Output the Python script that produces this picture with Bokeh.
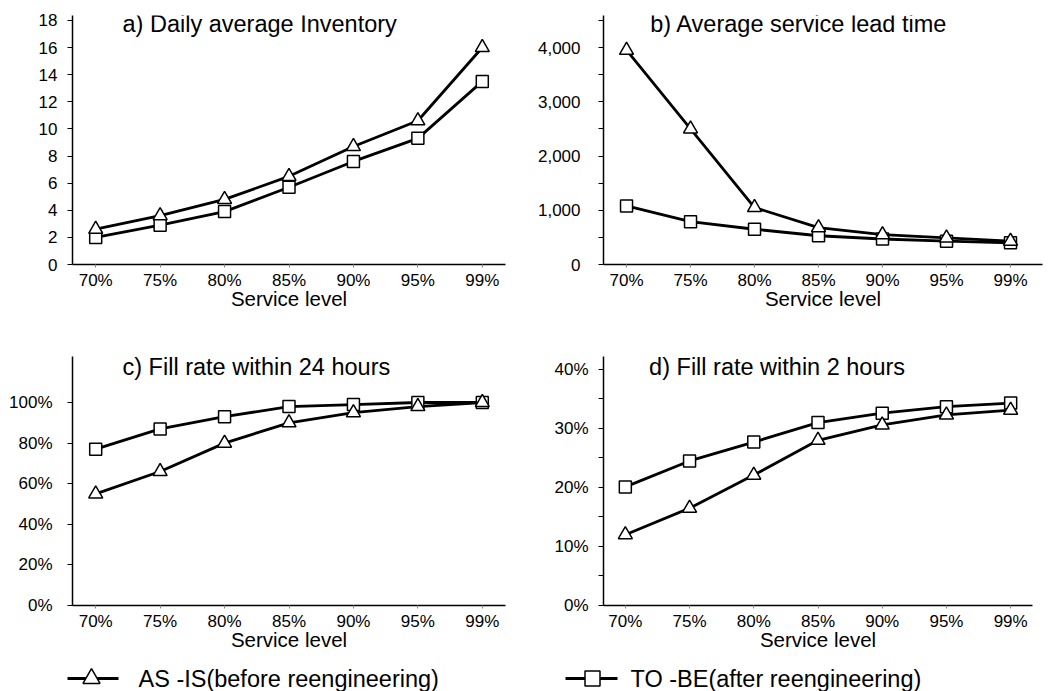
from bokeh.plotting import figure
from bokeh.layouts import column, row
from bokeh.models import Range1d, FixedTicker, NumeralTickFormatter, Label
from bokeh.core.properties import value
from bokeh.embed import file_html
from bokeh.resources import INLINE

# ---------------- data ----------------
service_levels = ["70%", "75%", "80%", "85%", "90%", "95%", "99%"]

inventory_asis = [2.6, 3.6, 4.8, 6.5, 8.7, 10.6, 16.0]
inventory_tobe = [2.0, 2.9, 3.9, 5.7, 7.6, 9.3, 13.5]

leadtime_asis = [3950, 2500, 1050, 680, 550, 490, 430]
leadtime_tobe = [1080, 790, 650, 530, 470, 430, 400]

fill24_asis = [0.55, 0.66, 0.80, 0.90, 0.95, 0.98, 1.00]
fill24_tobe = [0.77, 0.87, 0.93, 0.98, 0.99, 1.00, 1.00]

fill2_asis = [0.120, 0.165, 0.221, 0.280, 0.306, 0.323, 0.331]
fill2_tobe = [0.201, 0.245, 0.277, 0.310, 0.326, 0.337, 0.343]

panel_titles = ["a) Daily average Inventory", "b) Average service lead time",
                "c) Fill rate within 24 hours", "d) Fill rate within 2 hours"]
x_title = "Service level"
legend_labels = ["AS -IS(before reengineering)", "TO -BE(after reengineering)"]

FONT = "Liberation Sans"
x_idx = list(range(len(service_levels)))


def make_panel(width, height, borders, xr, yr, yticks, yminor, yfmt, title,
               title_xy, asis, tobe, y_standoff):
    bl, br, bt, bb = borders
    p = figure(width=width, height=height, output_backend="svg", toolbar_location=None,
               x_range=Range1d(*xr), y_range=Range1d(*yr),
               min_border_left=bl, min_border_right=br, min_border_top=bt, min_border_bottom=bb)
    p.outline_line_color = None
    p.xgrid.visible = False
    p.ygrid.visible = False

    xa = p.xaxis[0]
    xa.ticker = FixedTicker(ticks=x_idx)
    xa.major_label_overrides = {i: s for i, s in enumerate(service_levels)}
    xa.axis_label = x_title
    xa.axis_label_text_font = FONT
    xa.axis_label_text_font_style = "normal"
    xa.axis_label_text_font_size = "20.5px"
    xa.axis_label_text_color = "black"
    xa.axis_label_standoff = -6
    xa.major_label_text_font = FONT
    xa.major_label_text_font_size = "17px"
    xa.major_label_text_color = "black"
    xa.major_label_standoff = 3
    xa.major_tick_out = 3
    xa.major_tick_in = 0
    xa.minor_tick_out = 0
    xa.minor_tick_in = 0
    xa.axis_line_width = 1.5
    xa.axis_line_color = "black"
    xa.major_tick_line_color = "#888888"

    ya = p.yaxis[0]
    ya.ticker = FixedTicker(ticks=yticks, minor_ticks=yminor)
    ya.formatter = NumeralTickFormatter(format=yfmt)
    ya.major_label_text_font = FONT
    ya.major_label_text_font_size = "17px"
    ya.major_label_text_color = "black"
    ya.major_label_standoff = y_standoff
    ya.major_tick_out = 5
    ya.major_tick_in = 0
    ya.minor_tick_out = 5
    ya.minor_tick_in = 0
    ya.axis_line_width = 1.5
    ya.axis_line_color = "black"
    ya.major_tick_line_color = "black"
    ya.minor_tick_line_color = "black"

    p.line(x_idx, asis, line_color="black", line_width=2.8)
    p.line(x_idx, tobe, line_color="black", line_width=2.8)
    p.scatter(x_idx, tobe, marker="square", size=12, fill_color="white",
              line_color="black", line_width=1.5)
    p.scatter(x_idx, asis, marker="triangle", size=14, fill_color="white",
              line_color="black", line_width=1.5)

    p.add_layout(Label(x=title_xy[0], y=title_xy[1], text=title, text_font=FONT,
                       text_font_size="23.5px", text_color="black",
                       text_baseline="middle", text_align="left"))
    return p


pa = make_panel(520, 318, (72, 15, 13, 54), (-0.36, 6.36), (0, 18.36),
                list(range(0, 19, 2)), [], "0", panel_titles[0], (0.416, 17.70),
                inventory_asis, inventory_tobe, 10)
pb = make_panel(533, 318, (83, 11, 15, 54), (-0.36, 6.5), (0, 4590),
                [0, 1000, 2000, 3000, 4000], [500, 1500, 2500, 3500, 4500], "0,0",
                panel_titles[1], (0.37, 4442), leadtime_asis, leadtime_tobe, 18)
pc = make_panel(520, 337, (72, 15, 38, 50), (-0.36, 6.36), (0, 1.2266),
                [0, 0.2, 0.4, 0.6, 0.8, 1.0], [], "0%", panel_titles[2],
                (0.416, 1.177), fill24_asis, fill24_tobe, 15)
pd_ = make_panel(533, 337, (83, 21, 38, 50), (-0.34, 6.34), (0, 0.422),
                 [0, 0.1, 0.2, 0.3, 0.4], [0.05, 0.15, 0.25, 0.35],
                 "0%", panel_titles[3], (0.37, 0.405),
                 fill2_asis, fill2_tobe, 10)

# ---------------- legend strip (pixel-like coordinates) ----------------
LEG_W, LEG_H = 1053, 36
pl = figure(width=LEG_W, height=LEG_H, output_backend="svg", toolbar_location=None,
            x_range=Range1d(0, LEG_W), y_range=Range1d(LEG_H, 0),
            x_axis_location=None, y_axis_location=None,
            min_border=0, min_border_left=0, min_border_right=0,
            min_border_top=0, min_border_bottom=0)
pl.outline_line_color = None
pl.xgrid.visible = False
pl.ygrid.visible = False

leg_y = 23
leg_line_x = [(67, 118), (565, 617)]
leg_marker_x = [91, 592]
leg_text_x = [138, 630]
leg_markers = ["triangle", "square"]
leg_sizes = [17, 15]
for (x0, x1), mx, tx, mk, sz, lab in zip(leg_line_x, leg_marker_x, leg_text_x,
                                          leg_markers, leg_sizes, legend_labels):
    pl.line([x0, x1], [leg_y, leg_y], line_color="black", line_width=3.2)
    pl.scatter([mx], [leg_y], marker=mk, size=sz, fill_color="white",
               line_color="black", line_width=1.5)
    pl.text([tx], [leg_y], text=[lab], text_font=value(FONT), text_font_size=value("23.5px"),
            text_baseline="middle", text_align="left", text_color="black")

layout = column(row(pa, pb), row(pc, pd_), pl)

open("out.html", "w").write(file_html(layout, INLINE))
